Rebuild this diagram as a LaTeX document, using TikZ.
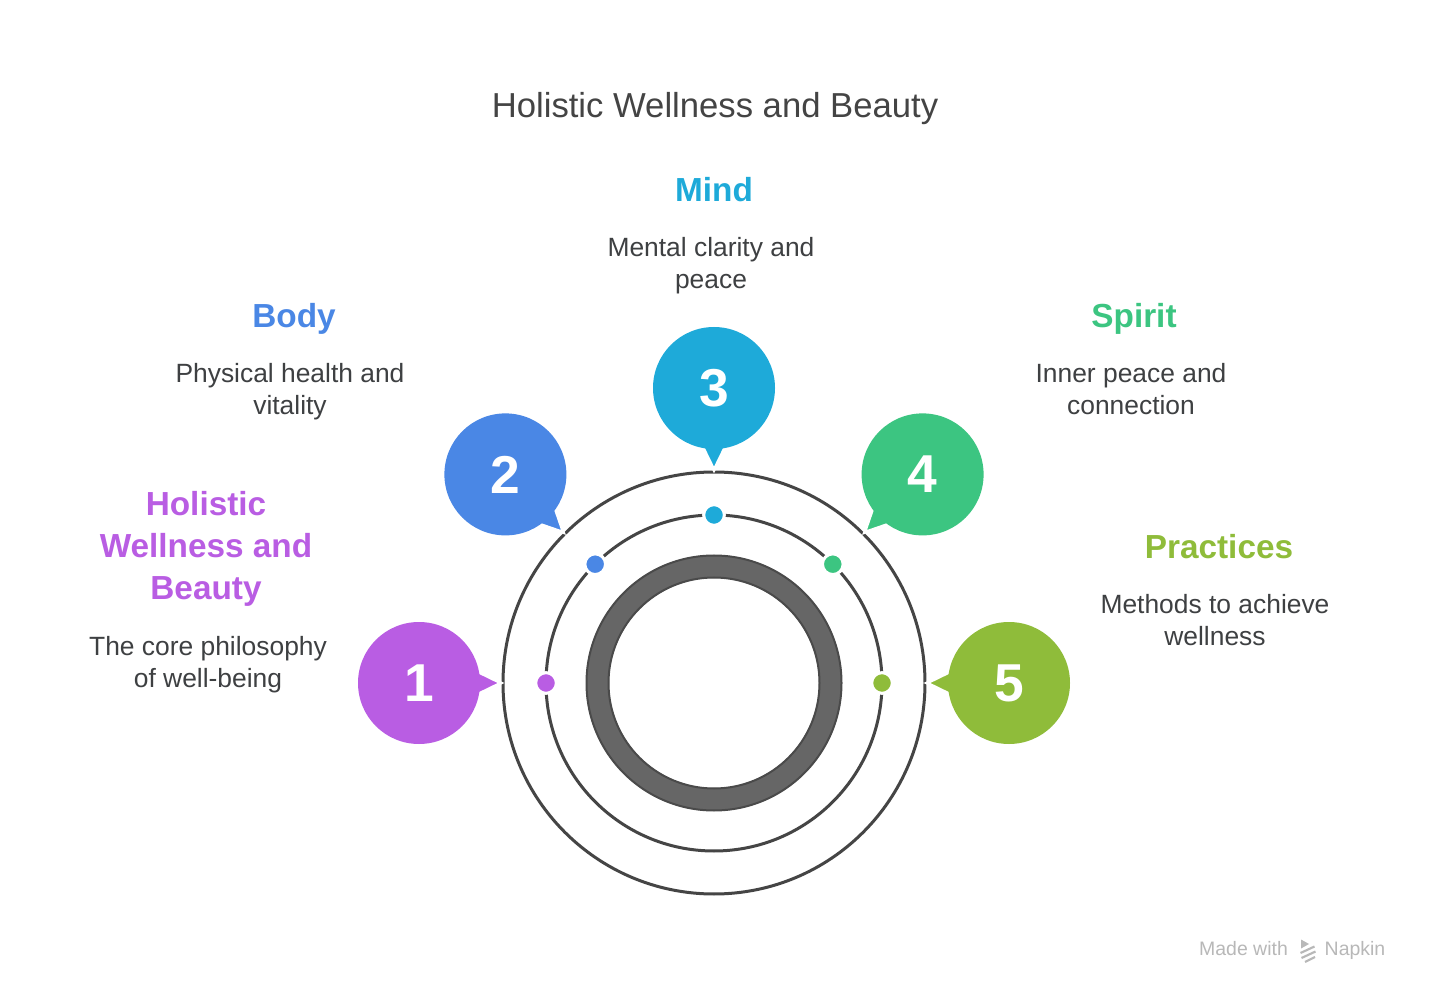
\documentclass[tikz,border=0pt]{standalone}
\usepackage{fontspec}
\setmainfont{Liberation Sans}
\usetikzlibrary{calc}
\definecolor{cpurple}{HTML}{B95DE3}
\definecolor{cblue}{HTML}{4A87E5}
\definecolor{ccyan}{HTML}{1EAAD9}
\definecolor{cgreen}{HTML}{3CC581}
\definecolor{colive}{HTML}{8FBC3A}
\definecolor{ctitle}{HTML}{444444}
\definecolor{cdesc}{HTML}{3E4042}
\definecolor{cline}{HTML}{454545}
\definecolor{cring}{HTML}{666666}
\definecolor{cringedge}{HTML}{4A4A4A}
\definecolor{cwm}{HTML}{B8B8B8}
\begin{document}
\begin{tikzpicture}[x=0.75pt,y=-0.75pt,
  titletext/.style={font=\fontsize{26}{31}\selectfont, text=ctitle, anchor=base},
  head/.style={font=\fontsize{25}{31.5}\selectfont\bfseries, align=center, inner sep=0pt},
  desc/.style={font=\fontsize{19.8}{24}\selectfont, text=cdesc, align=center, inner sep=0pt},
  num/.style={circle, minimum size=91.5pt, inner sep=0pt, text=white, font=\fontsize{40}{40}\selectfont\bfseries},
  orbit/.style={draw=cline, line width=2.25pt},
  dot/.style={circle, minimum size=15.5pt, inner sep=0pt, draw=white, line width=2.25pt},
  pointer/.style={fill=#1, draw=white, line width=2.25pt},
  wm/.style={font=\fontsize{14.6}{16}\selectfont, text=cwm, anchor=base, inner sep=0pt},
]
\useasboundingbox[fill=white] (0,0) rectangle (1429,998);

% title
\node[titletext] (title) at (715,117.5) {Holistic Wellness and Beauty};

% centre and orbits
\coordinate (O) at (714,683);
\draw[orbit] (O) circle (211);
\draw[orbit] (O) circle (168);
\fill[cring, even odd rule] (O) circle (128) (O) circle (105);
\draw[cringedge, line width=1.5pt] (O) circle (127.5) (O) circle (105.5);

% dots on the middle orbit
\node[dot, fill=cpurple] (d1) at (546,683) {};
\node[dot, fill=cblue]   (d2) at (595.2,564.2) {};
\node[dot, fill=ccyan]   (d3) at (714,515) {};
\node[dot, fill=cgreen]  (d4) at (832.8,564.2) {};
\node[dot, fill=colive]  (d5) at (882,683) {};

% bubbles
\coordinate (c1) at (419,683);
\coordinate (c2) at (505.4,474.4);
\coordinate (c3) at (714,388);
\coordinate (c4) at (922.6,474.4);
\coordinate (c5) at (1009,683);

\foreach \i/\col in {1/cpurple,2/cblue,3/ccyan,4/cgreen,5/colive}{
  \filldraw[pointer=\col] ($(c\i)!61.5pt!(O)$) -- ($(c\i)!37.5pt!20:(O)$) -- ($(c\i)!37.5pt!-20:(O)$) -- cycle;
}
\node[num, fill=cpurple] (b1) at (c1) {1};
\node[num, fill=cblue]   (b2) at (c2) {2};
\node[num, fill=ccyan]   (b3) at (c3) {3};
\node[num, fill=cgreen]  (b4) at (c4) {4};
\node[num, fill=colive]  (b5) at (c5) {5};

% headings
\node[head, text=ccyan, anchor=base] (h3) at (714,202) {Mind};
\node[head, text=cblue, anchor=base] (h2) at (294,328) {Body};
\node[head, text=cgreen, anchor=base] (h4) at (1134,328) {Spirit};
\node[head, text=colive, anchor=base] (h5) at (1219,559) {Practices};
\node[head, text=cpurple] (h1) at (206,549) {Holistic\\Wellness and\\Beauty};

% descriptions
\node[desc] (t3) at (711,266) {Mental clarity and\\peace};
\node[desc] (t2) at (290,392) {Physical health and\\vitality};
\node[desc] (t4) at (1131,389) {Inner peace and\\connection};
\node[desc] (t1) at (208,665) {The core philosophy\\of well-being};
\node[desc] (t5) at (1215,620) {Methods to achieve\\wellness};

% watermark
\node[wm] (wm1) at (1243.5,955) {Made with};
\node[wm] (wm2) at (1355,955) {Napkin};
\fill[cwm] (1301,939.5) -- (1309,944) -- (1301,948.5) -- cycle;
\draw[cwm, line width=1.6pt] (1300.5,953) -- (1314.5,946.5)
  (1301.5,958) -- (1315.5,951.5) (1305,962) -- (1315,957);
\end{tikzpicture}
\end{document}
